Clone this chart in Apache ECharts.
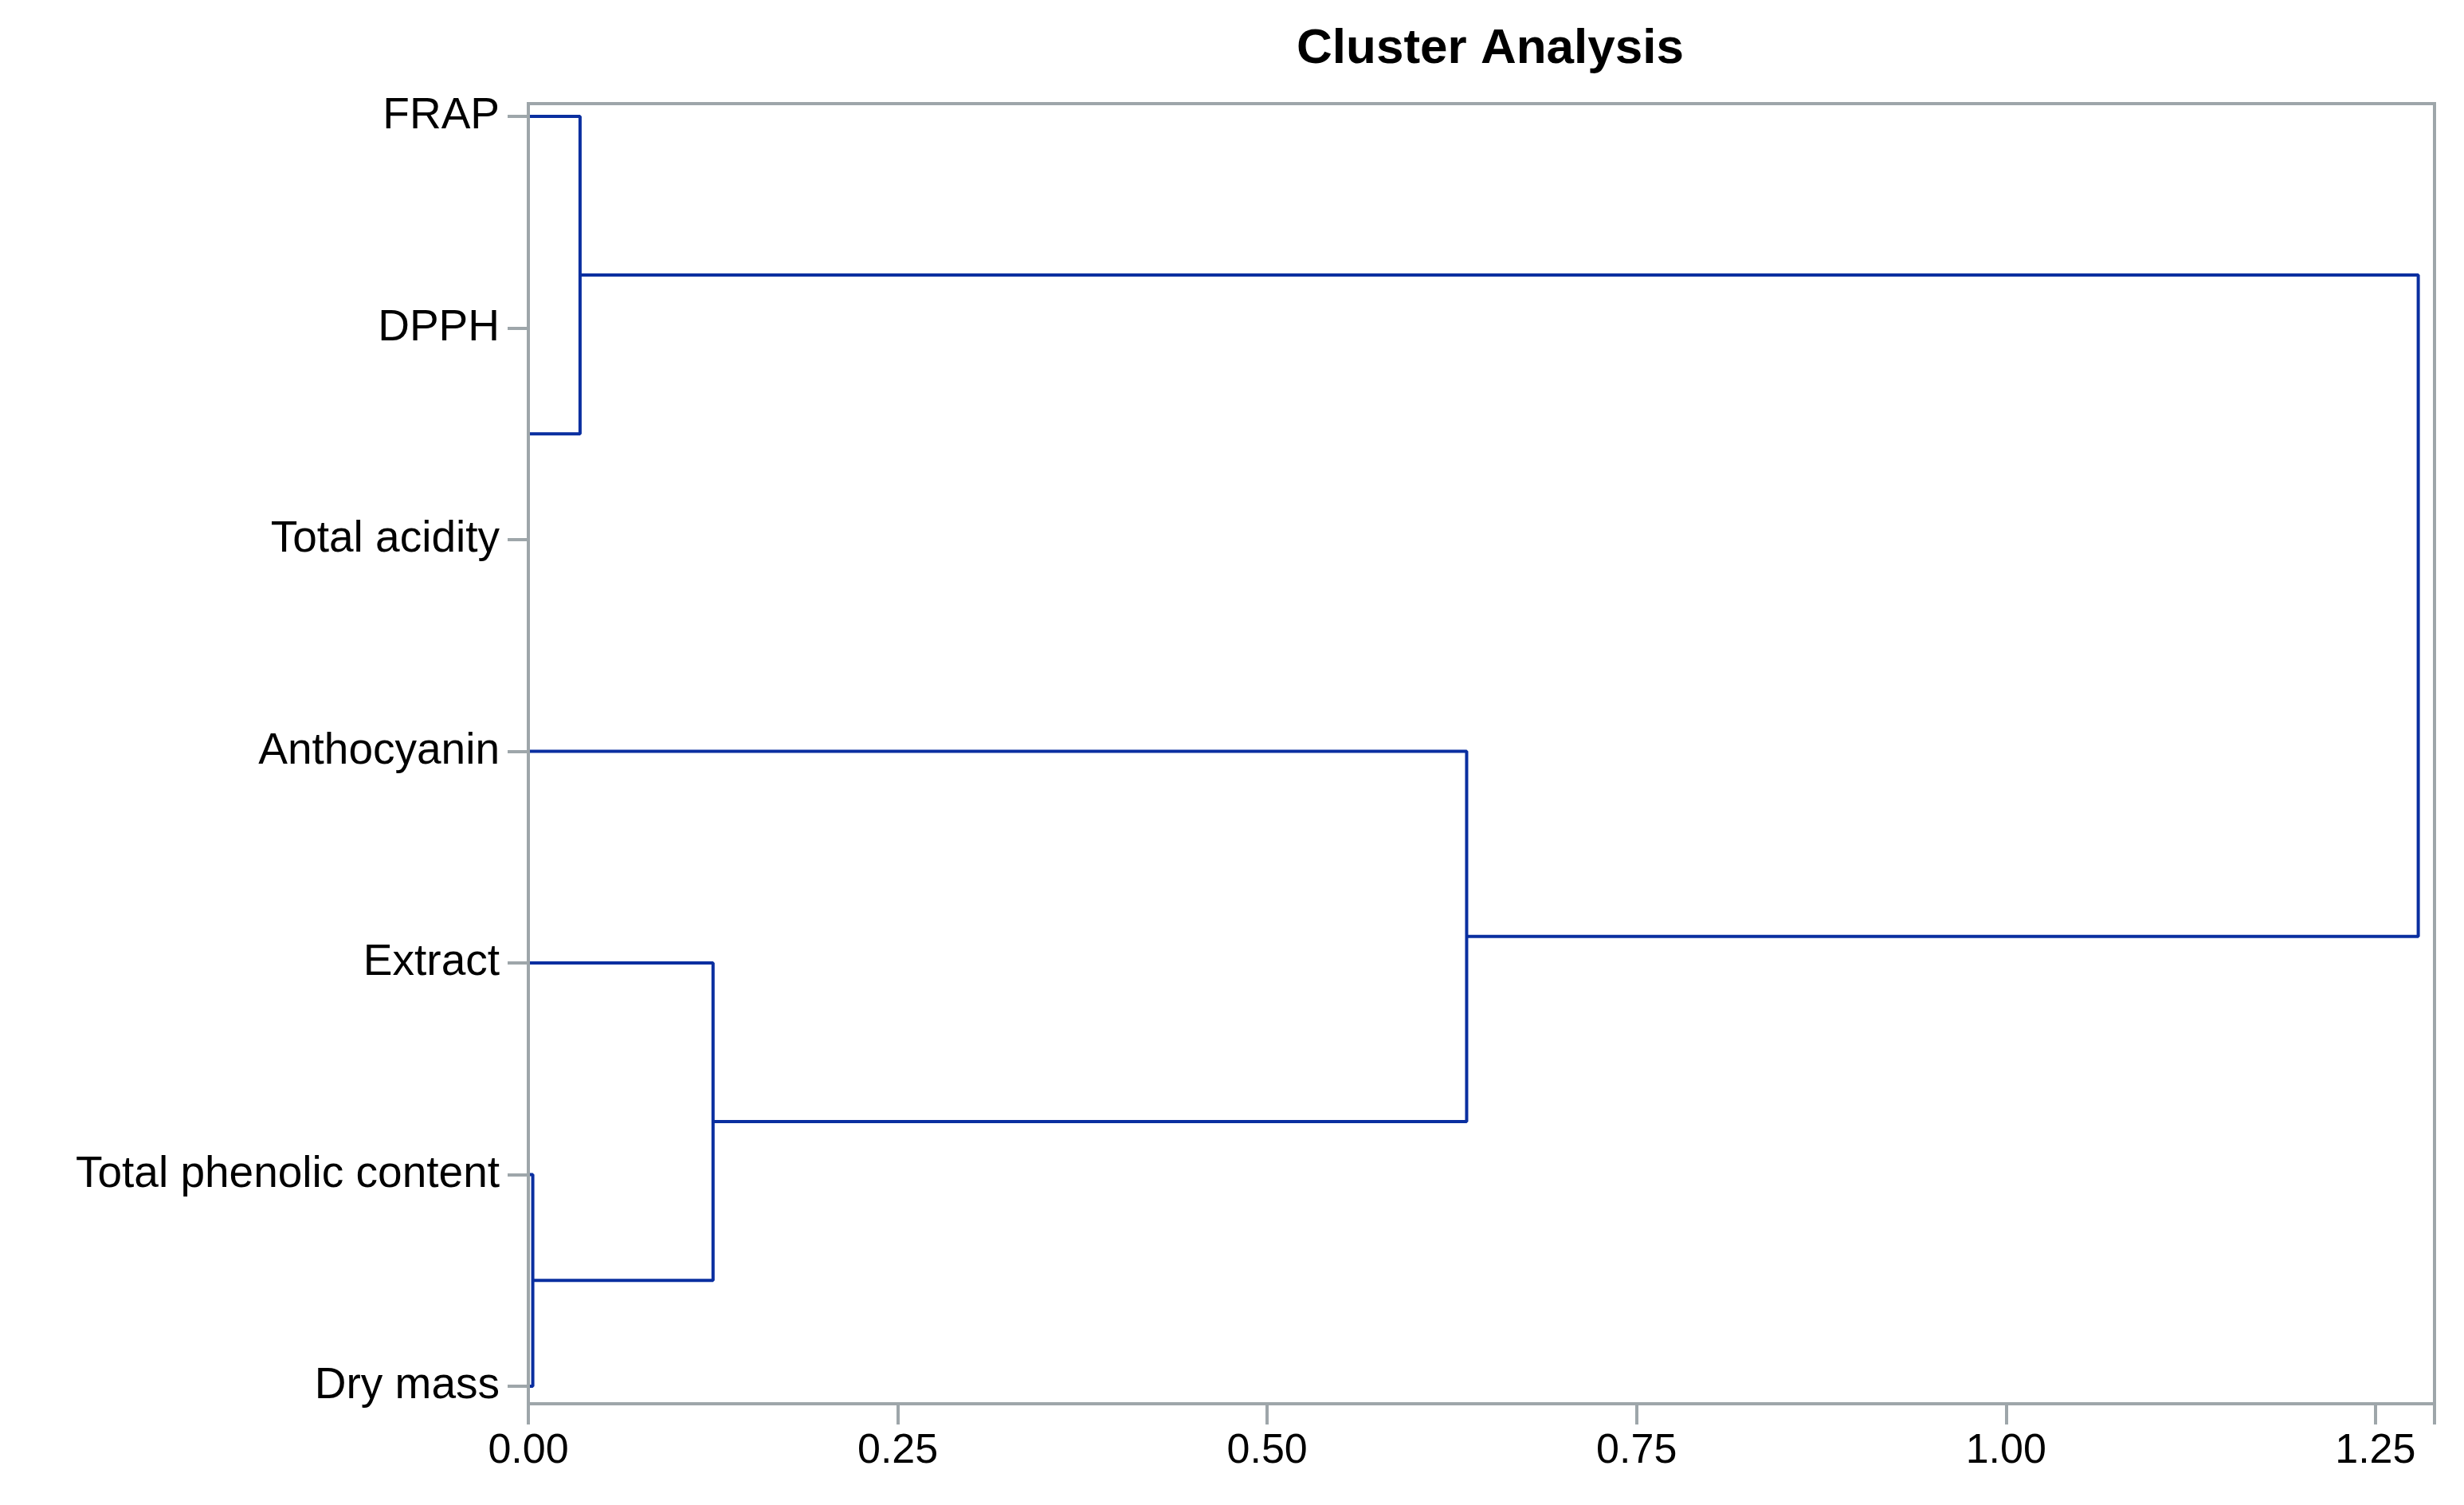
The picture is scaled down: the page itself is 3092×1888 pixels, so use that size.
<!DOCTYPE html>
<html>
<head>
<meta charset="utf-8">
<script src="https://cdn.jsdelivr.net/npm/echarts@6/dist/echarts.min.js"></script>
<style>html,body{margin:0;padding:0;background:#fff}#main{width:3092px;height:1888px}</style>
</head>
<body>
<div id="main"></div>
<script>
//树状图
var labels = ['FRAP', 'DPPH', 'Total acidity', 'Anthocyanin', 'Extract', 'Total phenolic content', 'Dry mass'];
// each merge: [upper y, lower y, upper height, lower height, merge height]
var merges = [
    [1, 2, 0, 0, 0.0],
    [0, 1.5, 0, 0, 0.035],
    [5, 6, 0, 0, 0.003],
    [4, 5.5, 0, 0.003, 0.125],
    [3, 4.75, 0, 0.125, 0.635],
    [0.75, 3.875, 0.035, 0.635, 1.279]
];
var xTicks = [0, 0.25, 0.5, 0.75, 1, 1.25];

(function(){
    var chart = echarts.init(document.getElementById('main'));
    var pts = [];
    merges.forEach(function(m){
        pts.push([m[2], m[0]], [m[4], m[0]], [m[4], m[1]], [m[3], m[1]], null);
    });
    var gray = '#9ea6aa';
    var font = 'Liberation Sans';
    option = {
        animation: false,
        title: {
            text: 'Cluster Analysis',
            left: 1865, top: 26, textAlign: 'center',
            textStyle: {fontFamily: font, fontSize: 62, fontWeight: 'bold', color: '#000'}
        },
        grid: {left: 663, right: 37, top: 130, bottom: 127, show: true, borderColor: gray, borderWidth: 4},
        xAxis: {
            type: 'value', min: 0, max: 1.29, interval: 0.25, z: 5,
            splitLine: {show: false},
            axisLine: {onZero: false, lineStyle: {color: gray, width: 4}},
            axisTick: {length: 26, lineStyle: {color: gray, width: 4}},
            axisLabel: {
                fontFamily: font, fontSize: 52, color: '#000', margin: 34,
                formatter: function(v){ return v.toFixed(2); },
                customValues: xTicks
            }
        },
        yAxis: {
            type: 'value', inverse: true, min: -0.06, max: 6.083, z: 5,
            splitLine: {show: false},
            axisLine: {onZero: false, lineStyle: {color: gray, width: 4}},
            axisTick: {length: 26, lineStyle: {color: gray, width: 4}, customValues: [0,1,2,3,4,5,6]},
            axisLabel: {
                fontFamily: font, fontSize: 55, color: '#000', margin: 36,
                customValues: [0,1,2,3,4,5,6],
                formatter: function(v){ return labels[Math.round(v)]; }
            }
        },
        series: [{
            type: 'line',
            z: 1,
            data: pts,
            showSymbol: false,
            connectNulls: false,
            lineStyle: {color: '#0a2fa0', width: 4}
        }]
    };
    chart.setOption(option);
})();
</script>
</body>
</html>
